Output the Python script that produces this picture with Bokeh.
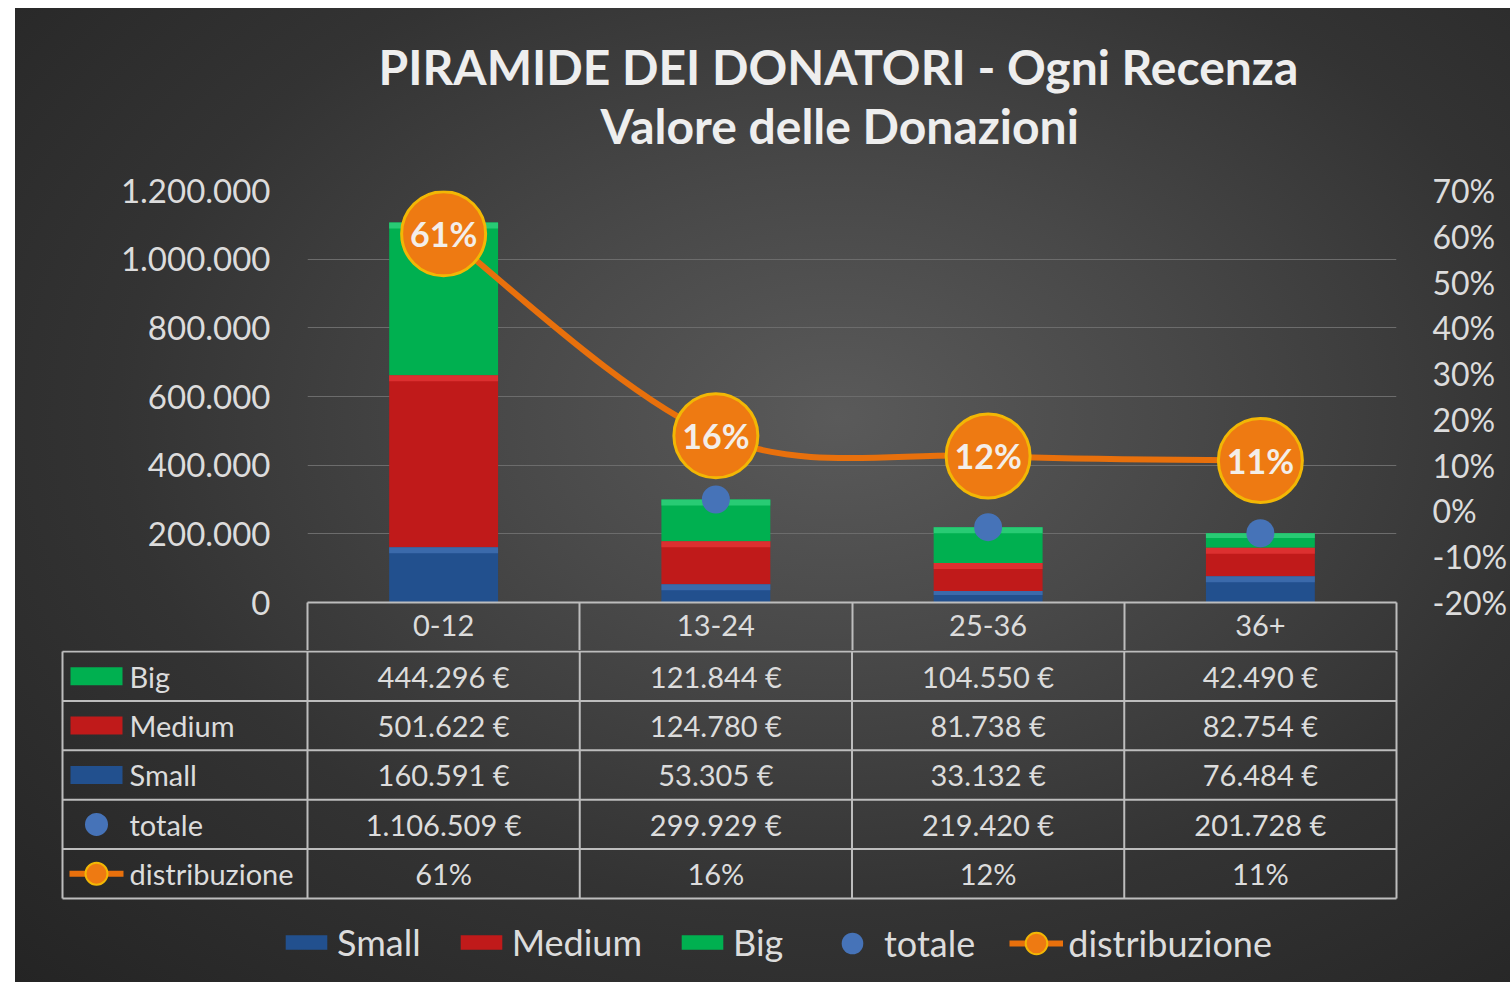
from bokeh.plotting import figure
from bokeh.models import Range1d, LinearAxis, FixedTicker, ColumnDataSource, Legend, LegendItem, Spacer, Title
from bokeh.layouts import column, row
from bokeh.embed import file_html
from bokeh.resources import INLINE
from bokeh.core.properties import value

# ---------------- data ----------------
categories = ["0-12", "13-24", "25-36", "36+"]
small = [160591, 53305, 33132, 76484]
medium = [501622, 124780, 81738, 82754]
big = [444296, 121844, 104550, 42490]
totale = [1106509, 299929, 219420, 201728]
distribuzione = [0.6055, 0.1641, 0.1201, 0.1104]

left_ticks = [0, 200000, 400000, 600000, 800000, 1000000, 1200000]
left_tick_labels = ["0", "200.000", "400.000", "600.000", "800.000", "1.000.000", "1.200.000"]
right_ticks = [-0.2, -0.1, 0.0, 0.1, 0.2, 0.3, 0.4, 0.5, 0.6, 0.7]
right_tick_labels = ["-20%", "-10%", "0%", "10%", "20%", "30%", "40%", "50%", "60%", "70%"]

title_line1 = "PIRAMIDE DEI DONATORI - Ogni Recenza"
title_line2 = "Valore delle Donazioni"
row_names = ["Big", "Medium", "Small", "totale", "distribuzione"]

# ---------------- style ----------------
FONT = "Lato"
TXT = "#dcdcdc"
BLUE = "#22508e"
RED = "#c01a1a"
GREEN = "#00b050"
BLUE_HI = "#3f6fb0"
RED_HI = "#e03535"
GREEN_HI = "#2fd07a"
DOT = "#4673b8"
ORANGE = "#ee7a12"
RIM = "#f2b705"
LINE_OR = "#e8700c"
GRID = "#6c6c6c"
TABLE_LINE = "#bdbdbd"

W = 1495
TOP_H = 642
BOT_H = 332
FRAME_H = 412
CAT_PX = 272.25
ROW_PX = 49.4


def eur(v):
    return f"{v:,}".replace(",", ".") + " \u20ac"


def pct(v):
    return f"{round(v * 100)}%"


# ---------------- chart ----------------
xs = list(range(len(categories)))
src = ColumnDataSource(dict(x=xs, small=small, medium=medium, big=big, totale=totale,
                            dist=distribuzione, dist_lbl=[pct(v) for v in distribuzione]))

p = figure(width=W, height=TOP_H, x_range=Range1d(-0.5, len(categories) - 0.5),
           y_range=Range1d(left_ticks[0], left_ticks[-1]),
           output_backend="svg", toolbar_location=None,
           min_border_left=292, min_border_right=114, min_border_top=182, min_border_bottom=48,
           border_fill_color=None, background_fill_color=None, outline_line_color=None)
p.frame_align = False
p.extra_y_ranges = {"pct": Range1d(right_ticks[0], right_ticks[-1])}

# left axis
p.yaxis.ticker = FixedTicker(ticks=left_ticks)
p.yaxis.major_label_overrides = dict(zip(left_ticks, left_tick_labels))
p.yaxis.axis_line_color = None
p.yaxis.major_tick_line_color = None
p.yaxis.minor_tick_line_color = None
p.yaxis.major_tick_out = 0
p.yaxis.major_tick_in = 0
p.yaxis.major_label_standoff = 37
p.yaxis.major_label_text_font = FONT
p.yaxis.major_label_text_font_size = "33px"
p.yaxis.major_label_text_color = TXT

# right axis
ra = LinearAxis(y_range_name="pct", ticker=FixedTicker(ticks=right_ticks),
                major_label_overrides=dict(zip(right_ticks, right_tick_labels)),
                axis_line_color=None, major_tick_line_color=None, minor_tick_line_color=None,
                major_tick_out=0, major_tick_in=0,
                major_label_standoff=36, major_label_text_font=FONT,
                major_label_text_font_size="32px", major_label_text_color=TXT)
p.add_layout(ra, "right")

# category axis = header row of the table
xax = p.below[0]
xax.ticker = FixedTicker(ticks=xs, minor_ticks=[i - 0.5 for i in range(len(categories) + 1)])
xax.major_label_overrides = dict(zip(xs, categories))
xax.major_tick_line_color = None
xax.major_tick_out = 0
xax.major_tick_in = 0
xax.minor_tick_in = 0
xax.minor_tick_out = 48
xax.minor_tick_line_color = TABLE_LINE
xax.minor_tick_line_width = 2
xax.axis_line_color = TABLE_LINE
xax.axis_line_width = 2
xax.major_label_standoff = -36
xax.major_label_text_font = FONT
xax.major_label_text_font_size = "29px"
xax.major_label_text_color = TXT

# titles
title_style = dict(align="left", text_font=FONT, text_font_style="bold",
                   text_font_size="48px", text_color="#eeeeee", standoff=0)
p.title.text = title_line1
for k, v in title_style.items():
    setattr(p.title, k, v)
p.title.offset = 71
# empty band between the frame and the subtitle (invisible axis, one unlabeled tick)
p.add_layout(LinearAxis(ticker=FixedTicker(ticks=[xs[0]]), major_label_overrides={xs[0]: ""},
                        axis_line_color=None, major_tick_line_color=None, minor_tick_line_color=None,
                        major_tick_out=37, major_tick_in=0, minor_tick_out=0, minor_tick_in=0,
                        major_label_standoff=0, major_label_text_font_size="0px"), "above")
p.add_layout(Title(text=title_line2, offset=293, **title_style), "above")

p.xgrid.visible = False
p.ygrid.ticker = FixedTicker(ticks=left_ticks)
p.ygrid.grid_line_color = GRID
p.ygrid.grid_line_width = 1

BAR_W = 0.4
p.vbar_stack(["small", "medium", "big"], x="x", width=BAR_W, source=src,
             fill_color=[BLUE, RED, GREEN], line_color=None)

# light bevel on top of each stacked segment
BEVEL = 6 * (left_ticks[-1] - left_ticks[0]) / FRAME_H
tops_s = small
tops_m = [a + b for a, b in zip(small, medium)]
tops_b = [a + b + c for a, b, c in zip(small, medium, big)]
for tops, segs, col in ((tops_s, small, BLUE_HI), (tops_m, medium, RED_HI), (tops_b, big, GREEN_HI)):
    p.vbar(x=xs, top=tops, bottom=[tp - min(BEVEL, s / 3) for tp, s in zip(tops, segs)],
           width=BAR_W, fill_color=col, line_color=None, fill_alpha=0.85)

p.scatter("x", "totale", source=src, size=28, fill_color=DOT, line_color=None)

# smoothed distribution line (Catmull-Rom -> cubic Bezier)
n = len(xs)
bx0, by0, bx1, by1, cx0, cy0, cx1, cy1 = [], [], [], [], [], [], [], []
for i in range(n - 1):
    pm = max(i - 1, 0)
    pn = min(i + 2, n - 1)
    bx0.append(xs[i]); by0.append(distribuzione[i])
    bx1.append(xs[i + 1]); by1.append(distribuzione[i + 1])
    cx0.append(xs[i] + (xs[i + 1] - xs[pm]) / 6)
    cy0.append(distribuzione[i] + (distribuzione[i + 1] - distribuzione[pm]) / 6)
    cx1.append(xs[i + 1] - (xs[pn] - xs[i]) / 6)
    cy1.append(distribuzione[i + 1] - (distribuzione[pn] - distribuzione[i]) / 6)
p.bezier(x0=bx0, y0=by0, x1=bx1, y1=by1, cx0=cx0, cy0=cy0, cx1=cx1, cy1=cy1,
         y_range_name="pct", line_color=LINE_OR, line_width=6)

p.scatter("x", "dist", source=src, y_range_name="pct", size=84,
          fill_color=ORANGE, line_color=RIM, line_width=3)
p.text("x", "dist", text="dist_lbl", source=src, y_range_name="pct",
       text_align="center", text_baseline="middle", text_font=value(FONT),
       text_font_style="bold", text_font_size="34px", text_color="#f3eee9")

# ---------------- data table + legend ----------------
PAD = 2 / CAT_PX
x_left = -0.5 - 245 / CAT_PX
x_right = len(categories) - 0.5
nrows = len(row_names)
ncols = len(categories)

t = figure(width=W, height=BOT_H,
           x_range=Range1d(x_left - PAD, x_right + PAD),
           y_range=Range1d(BOT_H / ROW_PX - 0.02, -0.02),
           output_backend="svg", toolbar_location=None,
           x_axis_location=None, y_axis_location=None,
           min_border_left=45, min_border_right=112, min_border_top=0, min_border_bottom=0,
           border_fill_color=None, background_fill_color=None, outline_line_color=None)
t.frame_align = False
t.title = None
t.grid.visible = False

hy = list(range(nrows + 1))
t.segment(x0=[x_left] * len(hy), y0=hy, x1=[x_right] * len(hy), y1=hy,
          line_color=TABLE_LINE, line_width=2)
vx = [x_left] + [i - 0.5 for i in range(ncols + 1)]
t.segment(x0=vx, y0=[0] * len(vx), x1=vx, y1=[nrows] * len(vx),
          line_color=TABLE_LINE, line_width=2)

rows_vals = [[eur(v) for v in big], [eur(v) for v in medium], [eur(v) for v in small],
             [eur(v) for v in totale], [pct(v) for v in distribuzione]]
tx, ty, tt = [], [], []
for r, vals in enumerate(rows_vals):
    for c, s in enumerate(vals):
        tx.append(xs[c]); ty.append(r + 0.5); tt.append(s)
t.text(x=tx, y=ty, text=tt, text_align="center", text_baseline="middle",
       text_font=value(FONT), text_font_size="29px", text_color=TXT)

LABEL_X = x_left + 67 / CAT_PX
ICON_X = x_left + 34 / CAT_PX
t.text(x=[LABEL_X] * nrows, y=[r + 0.5 for r in range(nrows)], text=row_names,
       text_align="left", text_baseline="middle",
       text_font=value(FONT), text_font_size="29px", text_color=TXT)

r_big = t.rect([ICON_X], [0.5], width=52, height=18, width_units="screen", height_units="screen",
               fill_color=GREEN, line_color=None)
r_med = t.rect([ICON_X], [1.5], width=52, height=18, width_units="screen", height_units="screen",
               fill_color=RED, line_color=None)
r_small = t.rect([ICON_X], [2.5], width=52, height=18, width_units="screen", height_units="screen",
                 fill_color=BLUE, line_color=None)
r_tot = t.scatter([ICON_X], [3.5], size=23, fill_color=DOT, line_color=None)
r_dline = t.segment(x0=[ICON_X - 27 / CAT_PX], y0=[4.5], x1=[ICON_X + 27 / CAT_PX], y1=[4.5],
                    line_color=LINE_OR, line_width=6)
r_dmark = t.scatter([ICON_X], [4.5], size=22, fill_color=ORANGE, line_color=RIM, line_width=2)

common = dict(orientation="horizontal", label_standoff=5, spacing=34, padding=0, margin=0,
              background_fill_alpha=0, border_line_alpha=0, label_text_font=FONT,
              label_text_font_size="36px", label_text_color=TXT)
leg1 = Legend(items=[LegendItem(label="Small", renderers=[r_small]),
                     LegendItem(label="Medium", renderers=[r_med]),
                     LegendItem(label="Big", renderers=[r_big])],
              location=(220, 18), glyph_width=52, glyph_height=18, **common)
leg2 = Legend(items=[LegendItem(label="totale", renderers=[r_tot]),
                     LegendItem(label="distribuzione", renderers=[r_dline, r_dmark])],
              location=(765, 12), glyph_width=54, glyph_height=54, **common)
t.add_layout(leg1)
t.add_layout(leg2)

chart = column(p, t, styles={"background": "radial-gradient(ellipse farthest-corner at 55% 42%, "
                                           "#5a5a5a 0%, #484848 30%, #333333 62%, #242424 100%)"})
layout = column(Spacer(width=1, height=8), row(Spacer(width=15, height=1), chart))

open("out.html", "w").write(file_html(layout, INLINE, title="Piramide dei donatori"))
